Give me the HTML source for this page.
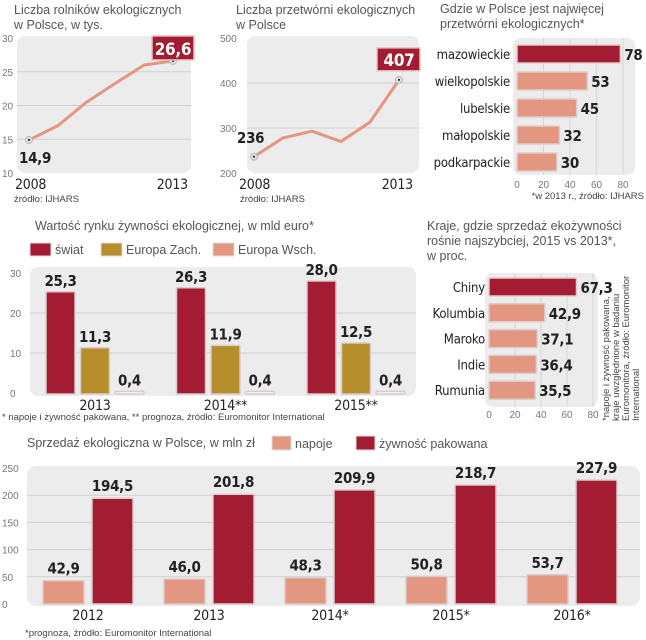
<!DOCTYPE html>
<html><head><meta charset="utf-8">
<style>
html,body{margin:0;padding:0;background:#fff;}
svg{display:block;font-family:"Liberation Sans",sans-serif;}
.t{font-size:12.5px;fill:#555;}
.ax{font-size:10px;fill:#777;}
.v{font-family:"DejaVu Sans Condensed","Liberation Sans",sans-serif;font-size:15px;font-weight:bold;fill:#222;letter-spacing:-0.3px;}
.xl{font-family:"DejaVu Sans Condensed","Liberation Sans",sans-serif;font-size:14px;fill:#222;letter-spacing:-0.2px;}
.src{font-size:9.5px;fill:#444;}
</style></head><body>
<svg id="s" width="646" height="640" viewBox="0 0 646 640" xmlns="http://www.w3.org/2000/svg">
<g id="static">
<text class="t" x="14" y="14">Liczba rolników ekologicznych</text>
<text class="t" x="14" y="29">w Polsce, w tys.</text>
<text class="t" x="236" y="14">Liczba przetwórni ekologicznych</text>
<text class="t" x="236" y="29">w Polsce</text>
<text class="t" x="440" y="13">Gdzie w Polsce jest najwięcej</text>
<text class="t" x="440" y="28">przetwórni ekologicznych*</text>
<text class="src" x="14" y="202">źródło: IJHARS</text>
<text class="src" x="240" y="202">źródło: IJHARS</text>
<text class="src" x="644" y="199" text-anchor="end">*w 2013 r., źródło: IJHARS</text>
<text class="t" x="35" y="230">Wartość rynku żywności ekologicznej, w mld euro*</text>
<text class="src" x="2" y="420">* napoje i żywność pakowana, ** prognoza, źródło: Euromonitor International</text>
<text class="t" x="427" y="230">Kraje, gdzie sprzedaż ekożywności</text>
<text class="t" x="427" y="245">rośnie najszybciej, 2015 vs 2013*,</text>
<text class="t" x="427" y="260">w proc.</text>
<g transform="rotate(-90)" class="src" style="font-size:9.5px">
<text x="-421" y="609">*napoje i żywność pakowana,</text>
<text x="-421" y="619">kraje uwzględnione w badaniu</text>
<text x="-421" y="629">Euromonitora, źródło: Euromonitor</text>
<text x="-421" y="639">International</text>
</g>
<text class="t" x="27" y="447">Sprzedaż ekologiczna w Polsce, w mln zł</text>
<text class="src" x="25" y="636">*prognoza, źródło: Euromonitor International</text>
</g>
</svg>
<script>
// Chart 1: farmers
const farmYears = ["2008","2009","2010","2011","2012","2013"];
const farmVals = [14.9, 17.0, 20.5, 23.3, 26.0, 26.6];
const farmTicks = [10,15,20,25,30];
// Chart 2: processors
const procVals = [236, 278, 293, 270, 313, 407];
const procTicks = [200,300,400,500];
// Chart 3: regions
const regions = ["mazowieckie","wielkopolskie","lubelskie","małopolskie","podkarpackie"];
const regionVals = [78, 53, 45, 32, 30];
const regionTicks = [0,20,40,60,80];
// Chart 4: world market
const marketYears = ["2013","2014**","2015**"];
const marketWorld = [25.3, 26.3, 28.0];
const marketWest = [11.3, 11.9, 12.5];
const marketEast = [0.4, 0.4, 0.4];
const marketTicks = [0,10,20,30];
const marketSeries = ["świat","Europa Zach.","Europa Wsch."];
// Chart 5: countries
const countries = ["Chiny","Kolumbia","Maroko","Indie","Rumunia"];
const countryVals = [67.3, 42.9, 37.1, 36.4, 35.5];
const countryTicks = [0,20,40,60,80];
// Chart 6: sales
const salesYears = ["2012","2013","2014*","2015*","2016*"];
const salesDrinks = [42.9, 46.0, 48.3, 50.8, 53.7];
const salesFood = [194.5, 201.8, 209.9, 218.7, 227.9];
const salesTicks = [0,50,100,150,200,250];
const salesSeries = ["napoje","żywność pakowana"];

const RED="#a31c31", SAL="#e39680", GOLD="#b68e2b", BG="#ececec";
const svg=document.getElementById('s');
const NS="http://www.w3.org/2000/svg";
function el(tag,attrs,parent){const e=document.createElementNS(NS,tag);for(const k in attrs)e.setAttribute(k,attrs[k]);(parent||svg).appendChild(e);return e;}
function txt(x,y,s,cls,anchor,parent){const e=el('text',{x:x,y:y,class:cls,'text-anchor':anchor||'start'},parent);e.textContent=s;return e;}
const fmt=v=>v.toFixed(1).replace('.',',');

// ---------- chart 1 ----------
(function(){
 const y=v=>173-(v-10)*6.75, x=i=>29+i*(144/5);
 const g=el('g',{});
 
 
 const bg=el('rect',{x:17,y:36,width:174,height:137,rx:8,fill:BG},g);
 
 
 farmTicks.forEach(t=>{ if(t>10&&t<30) el('line',{x1:17,x2:191,y1:y(t),y2:y(t),stroke:'#d0d0d0'},g);
  const l=txt(2,y(t)+4,String(t),'ax','start',g);
  
  });
 const pts=farmVals.map((v,i)=>x(i)+','+y(v)).join(' ');
 const pl=el('polyline',{points:pts,fill:'none',stroke:SAL,'stroke-width':3,'stroke-linejoin':'round'},g);
 
 
 [0,farmVals.length-1].forEach(i=>{el('circle',{cx:x(i),cy:y(farmVals[i]),r:3.5,fill:'#ddd',stroke:'#bbb'},g);el('circle',{cx:x(i),cy:y(farmVals[i]),r:1,fill:'#111'},g);});
 const n=farmVals.length-1;
 const b=el('rect',{x:x(n)-21,y:y(farmVals[n])-25,width:42,height:24,fill:RED,stroke:'#e5c6c6','stroke-width':1.5},g);
 
 
 txt(x(n),y(farmVals[n])-6,fmt(farmVals[n]),'v','middle',g).setAttribute('style','fill:#fff;font-size:17px');
 txt(19,y(farmVals[0])+23,fmt(farmVals[0]),'v','start',g);
 txt(15,189,farmYears[0],'xl','start',g);
 txt(188,189,farmYears[n],'xl','end',g);
})();

// ---------- chart 2 ----------
(function(){
 const y=v=>173-(v-200)*0.45, x=i=>254+i*(145/5);
 const g=el('g',{});
 
 
 const bg=el('rect',{x:247,y:36,width:172,height:137,rx:8,fill:BG},g);
 
 
 procTicks.forEach(t=>{ if(t>200&&t<500) el('line',{x1:247,x2:419,y1:y(t),y2:y(t),stroke:'#d0d0d0'},g);
  const l=txt(220,y(t)+4,String(t),'ax','start',g);
  
  });
 const pts=procVals.map((v,i)=>x(i)+','+y(v)).join(' ');
 const pl=el('polyline',{points:pts,fill:'none',stroke:SAL,'stroke-width':3,'stroke-linejoin':'round'},g);
 
 
 [0,procVals.length-1].forEach(i=>{el('circle',{cx:x(i),cy:y(procVals[i]),r:3.5,fill:'#ddd',stroke:'#bbb'},g);el('circle',{cx:x(i),cy:y(procVals[i]),r:1,fill:'#111'},g);});
 const n=procVals.length-1;
 const b=el('rect',{x:x(n)-22,y:y(procVals[n])-32,width:43,height:23,fill:RED,stroke:'#e5c6c6','stroke-width':1.5},g);
 
 
 txt(x(n),y(procVals[n])-14,String(procVals[n]),'v','middle',g).setAttribute('style','fill:#fff;font-size:17px');
 txt(237,y(procVals[0])-14,String(procVals[0]),'v','start',g);
 txt(239,189,'2008','xl','start',g);
 txt(413,189,'2013','xl','end',g);
})();

// ---------- chart 3 ----------
(function(){
 const x=v=>517+v*1.325, y=i=>54+i*27;
 const g=el('g',{});
 
 
 const bg=el('rect',{x:513,y:38,width:122,height:137,rx:8,fill:BG},g);
 
 
 regionTicks.forEach(t=>{ if(t>0) el('line',{x1:x(t),x2:x(t),y1:38,y2:175,stroke:'#d6d6d6'},g);
  const l=txt(x(t),188,String(t),'ax','middle',g);
  
  });
 regions.forEach((r,i)=>{
  const b=el('rect',{x:x(0),y:y(i)-9,width:x(regionVals[i])-x(0),height:18,fill:i==0?RED:SAL,stroke:'#dcc','stroke-width':1.5,rx:1},g);
  
  
  txt(510,y(i)+5,r,'xl','end',g).setAttribute('style','font-size:13px');
  txt(x(regionVals[i])+4,y(i)+6,String(regionVals[i]),'v','start',g);
 });
})();

// ---------- chart 4 ----------
(function(){
 const y=v=>393-v*4, gx=i=>46+i*130.5;
 const g=el('g',{});
 
 
 const cols=[RED,GOLD,SAL];
 const lx=[30,101,213];
 marketSeries.forEach((s,i)=>{
  const sw=el('rect',{x:lx[i],y:243,width:21,height:13,fill:cols[i],stroke:'#ddd'},g);
  
  
  const t=txt(lx[i]+25,254,s,'t','start',g);
  
  
 });
 const bg=el('rect',{x:30,y:267,width:386,height:129,rx:8,fill:BG},g);
 
 
 marketTicks.forEach(t=>{ if(t>0&&t<30) el('line',{x1:30,x2:416,y1:y(t),y2:y(t),stroke:'#d0d0d0'},g);
  const l=txt(10,y(t)+4,String(t),'ax','start',g);
  
  });
 const series=[marketWorld,marketWest,marketEast];
 marketYears.forEach((yr,i)=>{
  series.forEach((arr,k)=>{
   const bx=gx(i)+k*34.5, v=arr[i];
   const b=el('rect',{x:bx,y:y(v),width:29,height:393-y(v)+1,fill:cols[k]==SAL?'#f2f2f2':cols[k],stroke:'#d9cccc','stroke-width':1.5,rx:1},g);
   
   
   txt(bx+14.5,y(v)-6,fmt(v),'v','middle',g);
  });
  txt(gx(i)+49,410,yr,'xl','middle',g);
 });
})();

// ---------- chart 5 ----------
(function(){
 const x=v=>489+v*1.3, y=i=>287+i*25.8;
 const g=el('g',{});
 
 
 const bg=el('rect',{x:485,y:273,width:113,height:134,rx:8,fill:BG},g);
 
 
 countryTicks.forEach(t=>{ if(t>0) el('line',{x1:x(t),x2:x(t),y1:273,y2:407,stroke:'#d6d6d6'},g);
  const l=txt(x(t),418,String(t),'ax','middle',g);
  
  });
 countries.forEach((c,i)=>{
  const b=el('rect',{x:x(0),y:y(i)-9,width:x(countryVals[i])-x(0),height:18,fill:i==0?RED:SAL,stroke:'#dcc','stroke-width':1.5,rx:1},g);
  
  
  txt(485,y(i)+5,c,'xl','end',g).setAttribute('style','font-size:13px');
  txt(x(countryVals[i])+4,y(i)+6,fmt(countryVals[i]),'v','start',g);
 });
})();

// ---------- chart 6 ----------
(function(){
 const y=v=>604-v*0.544, gx=i=>43+i*121;
 const g=el('g',{});
 
 
 const cols=[SAL,RED], lx=[272,356];
 salesSeries.forEach((s,i)=>{
  const sw=el('rect',{x:lx[i],y:436,width:19,height:14,fill:cols[i],stroke:'#ddd'},g);
  
  
  const t=txt(lx[i]+23,448,s,'t','start',g);
  
  
 });
 const bg=el('rect',{x:27,y:466,width:613,height:140,rx:9,fill:BG},g);
 
 
 salesTicks.forEach(t=>{ if(t>0&&t<250) el('line',{x1:27,x2:640,y1:y(t),y2:y(t),stroke:'#d0d0d0'},g);
  const l=txt(2,y(t)+4,String(t),'ax','start',g);
  
  });
 const series=[salesDrinks,salesFood];
 salesYears.forEach((yr,i)=>{
  series.forEach((arr,k)=>{
   const bx=gx(i)+k*49, v=arr[i];
   const b=el('rect',{x:bx,y:y(v),width:41,height:604-y(v),fill:cols[k],stroke:'#d9cccc','stroke-width':1.5,rx:1},g);
   
   
   txt(bx+20.5,y(v)-7,fmt(v),'v','middle',g);
  });
  txt(gx(i)+45,620,yr,'xl','middle',g);
 });
})();
</script>
</body></html>
